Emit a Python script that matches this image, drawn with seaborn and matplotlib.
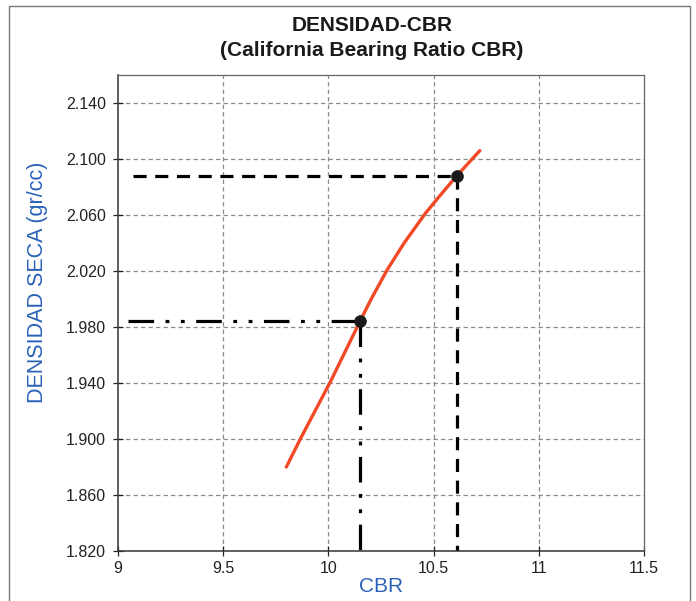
import matplotlib
matplotlib.use("Agg")
import matplotlib.pyplot as plt
import matplotlib.patches as mpatches
import pandas as pd
import seaborn as sns

# Compaction curve: CBR vs dry density
cbr = [9.80, 9.87, 10.01, 10.15, 10.20, 10.28, 10.36, 10.46, 10.52, 10.61, 10.72]
density = [1.880, 1.901, 1.941, 1.984, 1.999, 2.021, 2.040, 2.061, 2.072, 2.088, 2.106]

# Reference points read on the curve
pt_cbr = [10.15, 10.61]
pt_density = [1.984, 2.088]

x_ticks = [9, 9.5, 10, 10.5, 11, 11.5]
x_tick_labels = ["9", "9.5", "10", "10.5", "11", "11.5"]
y_ticks = [1.820, 1.860, 1.900, 1.940, 1.980, 2.020, 2.060, 2.100, 2.140]

sns.set_style("white")
plt.rcParams["font.family"] = ["Liberation Sans", "DejaVu Sans"]

fig = plt.figure(figsize=(6.96, 6.01), dpi=100)
ax = fig.add_axes([0.1695, 0.0832, 0.7558, 0.792])

curve = pd.DataFrame({"CBR": cbr, "density": density})
points = pd.DataFrame({"CBR": pt_cbr, "density": pt_density})

ax.set_xlim(9, 11.5)
ax.set_ylim(1.82, 2.16)

# grid
for xv in x_ticks[1:-1]:
    ax.axvline(xv, color="#8a8a8a", lw=0.9, ls=(0, (3.5, 2.5)), zorder=0)
for yv in y_ticks[1:]:
    ax.axhline(yv, color="#8a8a8a", lw=0.9, ls=(0, (3.5, 2.5)), zorder=0)

lw_guide = 2.3
# guide lines for the upper point (dashed)
ax.plot([9.07, pt_cbr[1]], [pt_density[1], pt_density[1]], color="black",
        lw=lw_guide, ls=(0, (4.1, 2.7)), zorder=2)
ax.plot([pt_cbr[1], pt_cbr[1]], [pt_density[1], 1.82], color="black",
        lw=lw_guide, ls=(0, (4.1, 2.7)), zorder=2)
# guide lines for the lower point (dash-dot-dot)
ddd = (0, (8.0, 3.6, 1.2, 3.6, 1.2, 3.6))
ax.plot([9.05, pt_cbr[0]], [pt_density[0], pt_density[0]], color="black",
        lw=lw_guide, ls=ddd, zorder=2)
ax.plot([pt_cbr[0], pt_cbr[0]], [pt_density[0], 1.82], color="black",
        lw=lw_guide, ls=ddd, zorder=2)

sns.lineplot(data=curve, x="CBR", y="density", ax=ax, color="#f24a26",
             lw=2.4, zorder=3, sort=False, solid_joinstyle="round")
sns.scatterplot(data=points, x="CBR", y="density", ax=ax, color="#1a1a1a",
                s=70, edgecolor="#1a1a1a", zorder=4)

ax.set_xticks(x_ticks)
ax.set_xticklabels(x_tick_labels)
ax.set_yticks(y_ticks)
ax.set_yticklabels([f"{v:.3f}" for v in y_ticks])
ax.tick_params(axis="both", direction="inout", length=7, width=0.9,
               labelsize=11.5, colors="#222222", pad=5, left=True, bottom=True)
ax.tick_params(axis="x", pad=4)

for side in ["left", "bottom"]:
    ax.spines[side].set_color("#333333")
    ax.spines[side].set_linewidth(1.1)
for side in ["top", "right"]:
    ax.spines[side].set_color("#666666")
    ax.spines[side].set_linewidth(0.9)

ax.set_xlabel("CBR", color="#2a62b8", fontsize=15)
ax.set_ylabel("DENSIDAD SECA (gr/cc)", color="#2a62b8", fontsize=15.5)
ax.xaxis.set_label_coords(0.5, -0.055)
ax.yaxis.set_label_coords(-0.133, 0.565)

fig.text(0.534, 0.958, "DENSIDAD-CBR", ha="center", va="center",
         fontsize=15, fontweight="bold", color="#1a1a1a")
fig.text(0.534, 0.916, "(California Bearing Ratio CBR)", ha="center",
         va="center", fontsize=15, fontweight="bold", color="#1a1a1a")

# outer frame
fig.patches.append(mpatches.Rectangle((0.013, -0.01), 0.978, 1.0,
                                      transform=fig.transFigure, fill=False,
                                      edgecolor="#777777", lw=1.0))

fig.savefig("out.png", dpi=100)
